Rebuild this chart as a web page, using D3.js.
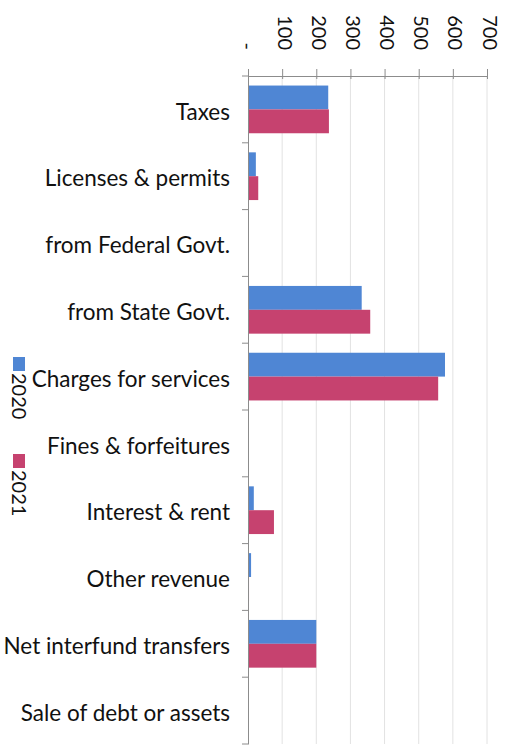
<!DOCTYPE html>
<html><head><meta charset="utf-8">
<script src="https://cdn.jsdelivr.net/npm/d3@7"></script>
<style>body{margin:0;background:#fff}svg{display:block}</style>
</head><body>
<svg id="c" width="508" height="746"></svg>
<script>
const categories = ["Taxes","Licenses & permits","from Federal Govt.","from State Govt.","Charges for services","Fines & forfeitures","Interest & rent","Other revenue","Net interfund transfers","Sale of debt or assets"];
const series2020 = [235,23,0,333,577,0,17,9,200,0];
const series2021 = [237,30,0,358,557,0,76,3,200,0];
const seriesNames = ["2020","2021"];
const tickValues = [0,100,200,300,400,500,600,700];
const colors = ["#4f86d4","#c6426f"];

const svg = d3.select("#c");
const font = "Lato, 'Open Sans', sans-serif";
const top0 = 76, bot = 744;
const x = d3.scaleLinear().domain([0,700]).range([248,487]);
const y = d3.scaleBand().domain(categories).range([top0,bot]);
const inner = d3.scaleBand().domain(seriesNames).range([0,y.bandwidth()]).paddingInner(0).paddingOuter(0.4);

// gridlines
svg.append("g").selectAll("line").data(tickValues.slice(1)).join("line")
  .attr("x1",d=>x(d)).attr("x2",d=>x(d)).attr("y1",top0).attr("y2",bot)
  .attr("stroke","#e2e2e2").attr("stroke-width",1);

// bars
const data = categories.map((c,i)=>({c, vals:[series2020[i],series2021[i]]}));
const g = svg.append("g");
data.forEach(d=>{
  d.vals.forEach((v,j)=>{
    if(v<=0) return;
    g.append("rect").attr("x",x(0)).attr("y",y(d.c)+inner(seriesNames[j]))
      .attr("width",x(v)-x(0)).attr("height",inner.bandwidth())
      .attr("fill",colors[j]);
  });
});

// top axis
const xAxis = d3.axisTop(x).tickValues(tickValues).tickSize(0).tickFormat(d=>d===0?"-":d3.format("d")(d));
const ax = svg.append("g").attr("transform",`translate(0,${top0})`).call(xAxis);
ax.select(".domain").attr("stroke","#8c8c8c");
ax.selectAll(".tick").append("line").attr("y1",-7).attr("y2",3).attr("stroke","#8c8c8c");
ax.selectAll(".tick text")
  .attr("transform","rotate(90)")
  .attr("x",-26).attr("y",d=>d===0?1:-2).attr("dy","0.35em")
  .attr("text-anchor","end")
  .attr("font-family",font).attr("font-size",20).attr("fill","#111");

// left axis
const yAxis = d3.axisLeft(y).tickSize(0).tickPadding(18);
const ay = svg.append("g").attr("transform","translate(248,0)").call(yAxis);
ay.select(".domain").attr("stroke","#8c8c8c");
ay.selectAll(".tick text").attr("font-family",font).attr("font-size",22.5).attr("fill","#111").attr("dy","0.45em");
ay.append("g").selectAll("line").data(categories.map(c=>y(c)).concat([bot])).join("line")
  .attr("x1",-6).attr("x2",0).attr("y1",d=>d).attr("y2",d=>d).attr("stroke","#8c8c8c");

// legend
const leg = svg.append("g");
const legY = [357,454];
seriesNames.forEach((s,i)=>{
  leg.append("rect").attr("x",13).attr("y",legY[i]).attr("width",12).attr("height",14).attr("fill",colors[i]);
  leg.append("text").attr("transform",`translate(19,${legY[i]+16}) rotate(90)`)
    .attr("dy","0.35em").attr("font-family",font).attr("font-size",20).attr("fill","#111").text(s);
});
</script>
</body></html>
